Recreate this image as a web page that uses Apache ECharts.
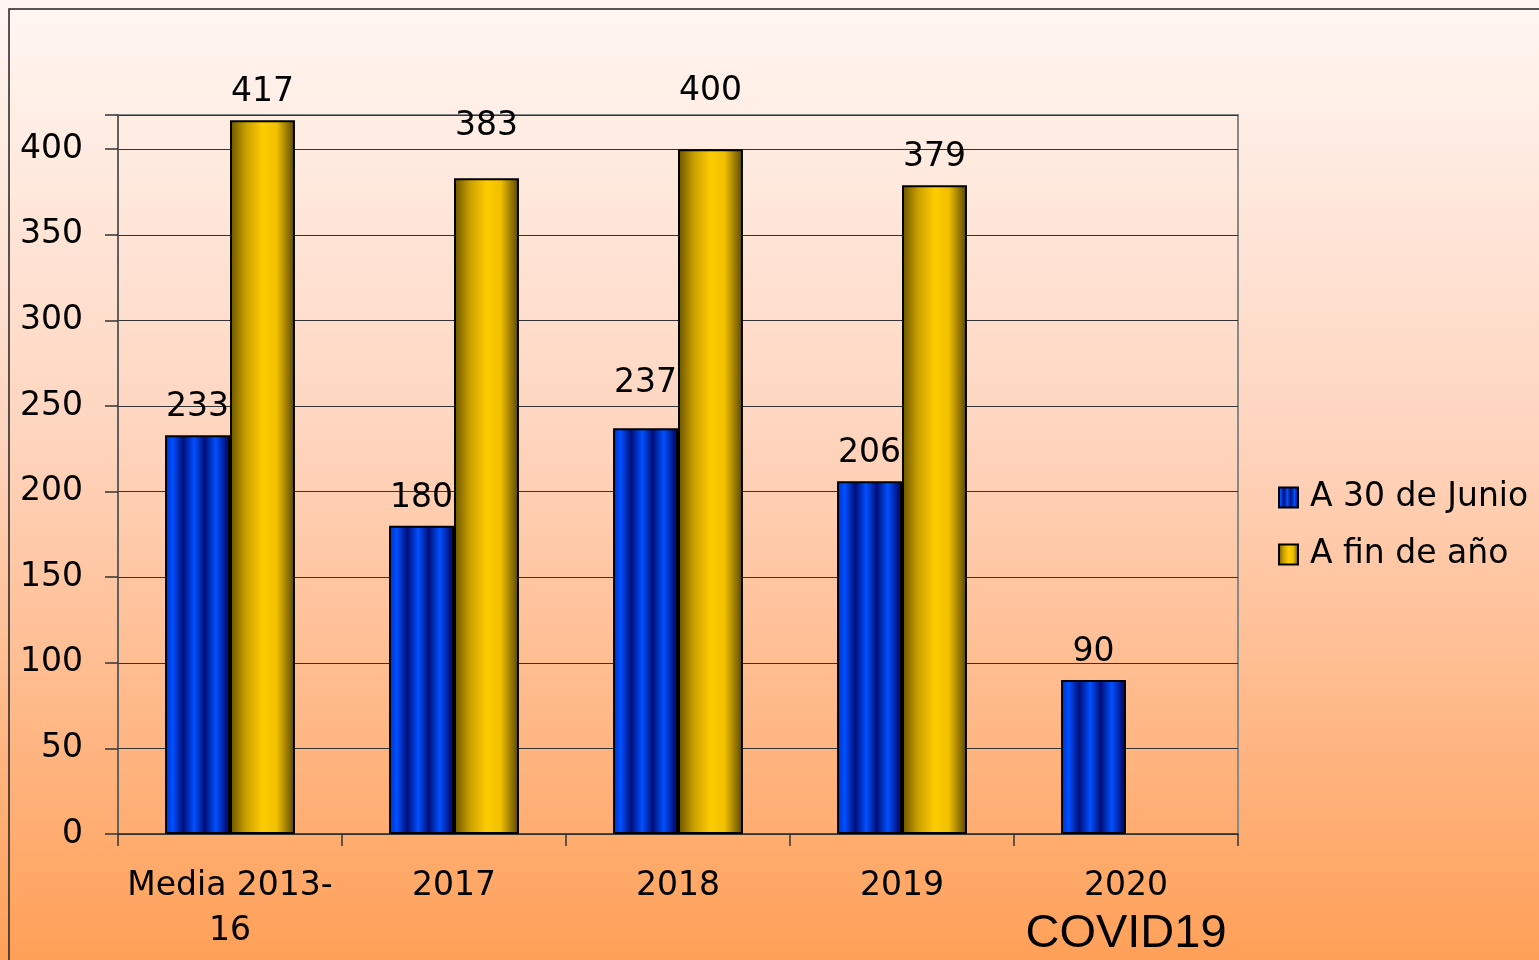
<!DOCTYPE html>
<html>
<head>
<meta charset="utf-8">
<script src="https://cdn.jsdelivr.net/npm/echarts@6/dist/echarts.min.js"></script>
<style>
html,body{margin:0;padding:0;width:1539px;height:960px;overflow:hidden;}
#c{width:1539px;height:960px;}
</style>
</head>
<body>
<div id="c"></div>
<script>
// ---- data ----
const categories = ['Media 2013-16', '2017', '2018', '2019', '2020'];
const seriesNames = ['A 30 de Junio', 'A fin de año'];
const junioValues = [233, 180, 237, 206, 90];
const finValues = [417, 383, 400, 379, null];
const yTicks = [0, 50, 100, 150, 200, 250, 300, 350, 400];

// ---- style ----
const FONT = 'DejaVu Sans';
const FS = 33;
const labelLiftJunio = { '2018': 17 };
const labelLiftFin = { '2017': 24, '2018': 30 };

const blueFill = {
  type: 'linear', x: 0, y: 0, x2: 1, y2: 0,
  colorStops: [
    { offset: 0, color: '#0030d0' },
    { offset: 0.12, color: '#0050ff' },
    { offset: 0.28, color: '#000e78' },
    { offset: 0.45, color: '#0050ff' },
    { offset: 0.61, color: '#000e78' },
    { offset: 0.78, color: '#0050ff' },
    { offset: 0.95, color: '#000e78' },
    { offset: 1, color: '#001680' }
  ]
};
const yellowFill = {
  type: 'linear', x: 0, y: 0, x2: 1, y2: 0,
  colorStops: [
    { offset: 0, color: '#6a5400' },
    { offset: 0.25, color: '#c9a000' },
    { offset: 0.5, color: '#ffcc00' },
    { offset: 0.72, color: '#f0c000' },
    { offset: 1, color: '#564400' }
  ]
};

function buildData(values, lifts) {
  return values.map((v, i) => {
    const lift = lifts[categories[i]] || 0;
    return lift ? { value: v, label: { distance: 11 + lift } } : v;
  });
}

const labelStyle = {
  show: true, position: 'top', distance: 11,
  fontFamily: FONT, fontSize: FS, color: '#000'
};

const chart = echarts.init(document.getElementById('c'));
chart.setOption({
  backgroundColor: {
    type: 'linear', x: 0, y: 0, x2: 0, y2: 1,
    colorStops: [
      { offset: 0, color: '#fff7f3' },
      { offset: 0.45, color: '#ffd5bf' },
      { offset: 1, color: '#ffa058' }
    ]
  },
  animation: false,
  graphic: [{
    type: 'rect', silent: true,
    shape: { x: 9, y: 9, width: 1700, height: 1100 },
    style: { fill: 'none', stroke: '#222', lineWidth: 1.5 }
  }],
  grid: {
    left: 118, right: 301, top: 115, bottom: 126,
    show: true, borderColor: '#888', borderWidth: 2,
    backgroundColor: 'transparent'
  },
  legend: {
    orient: 'vertical', left: 1273, top: 476,
    icon: 'rect',
    itemWidth: 19, itemHeight: 20, itemGap: 24,
    textStyle: { fontFamily: FONT, fontSize: FS, color: '#000', padding: [0, 0, 0, 7] },
    data: seriesNames
  },
  xAxis: {
    type: 'category', data: categories,
    axisLine: { lineStyle: { color: '#333', width: 1.5 } },
    axisTick: { show: true, interval: 0, length: 12, lineStyle: { color: '#333', width: 1.5 } },
    axisLabel: {
      interval: 0,
      margin: 30, fontFamily: FONT, fontSize: FS, color: '#000', lineHeight: 45,
      formatter: function (v) {
        if (v === '2020') return '{a|2020}\n{b|COVID19}';
        return v.replace('2013-', '2013-\n');
      },
      rich: {
        a: { fontFamily: FONT, fontSize: FS, color: '#000', lineHeight: 45 },
        b: { fontFamily: 'Liberation Sans', fontSize: 47, color: '#000', lineHeight: 50 }
      }
    }
  },
  yAxis: {
    type: 'value', min: 0, max: 420, interval: 50,
    axisLine: { show: true, lineStyle: { color: '#555', width: 1.5 } },
    axisTick: { show: true, length: 13, lineStyle: { color: '#333', width: 1.5 } },
    axisLabel: {
      margin: 35, fontFamily: FONT, fontSize: FS, color: '#000',
      formatter: function (v) { return yTicks.indexOf(v) >= 0 ? String(v) : ''; }
    },
    splitLine: { show: true, lineStyle: { color: '#333', width: 1 } }
  },
  series: [
    {
      name: seriesNames[0], type: 'bar', data: buildData(junioValues, labelLiftJunio),
      barGap: '0%', barCategoryGap: '42%',
      itemStyle: { color: blueFill, borderColor: '#000', borderWidth: 2 },
      label: labelStyle
    },
    {
      name: seriesNames[1], type: 'bar', data: buildData(finValues, labelLiftFin),
      barGap: '0%', barCategoryGap: '42%',
      itemStyle: { color: yellowFill, borderColor: '#000', borderWidth: 2 },
      label: labelStyle
    }
  ]
});
</script>
</body>
</html>
